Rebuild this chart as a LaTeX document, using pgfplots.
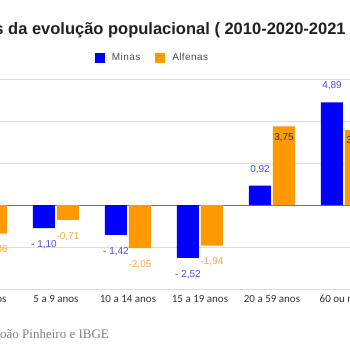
\documentclass[border=0pt]{standalone}
\usepackage{pgfplots}
\pgfplotsset{compat=1.18}
\usepackage{pgfplotstable}
\usepackage{fontspec}
\setmainfont{Liberation Sans}
\newfontfamily\tickfont{Carlito}
\newfontfamily\seriffont{Liberation Serif}
\newfontfamily\legfont[LetterSpace=4]{Liberation Sans}
\definecolor{minas}{HTML}{0000FF}
\definecolor{alfenas}{HTML}{FF9900}
\definecolor{minaslbl}{HTML}{4B4BF0}
\definecolor{alfenaslbl}{HTML}{F7A83A}
\definecolor{gridc}{HTML}{DDDDDD}

\pgfplotstableread[col sep=semicolon]{
x;y;lbl
0;-1.27;- 1,27
1;-1.10;- 1,10
2;-1.42;- 1,42
3;-2.52;- 2,52
4;0.92;0,92
5;4.89;4,89
}\minasdata

\pgfplotstableread[col sep=semicolon]{
x;y;lbl
0;-1.36;-1,36
1;-0.71;-0,71
2;-2.05;-2,05
3;-1.94;-1,94
4;3.75;{}
5;3.57;{}
}\alfenasdata

\def\myanc{south}
\begin{document}
\begin{tikzpicture}
\useasboundingbox (0,0) rectangle (350pt,350pt);
\clip (0,0) rectangle (350pt,350pt);
\begin{axis}[
  at={(-52pt,61pt)}, anchor=south west,
  scale only axis, width=432pt, height=210pt,
  xmin=-0.5, xmax=5.5, ymin=-4, ymax=6,
  ytick={-4,-2,...,6}, yticklabels={},
  xtick={0,...,5},
  xticklabels={0 a 4 anos,5 a 9 anos,10 a 14 anos,15 a 19 anos,20 a 59 anos,60 ou mais},
  xticklabel style={font=\tickfont\fontsize{11}{11}\selectfont, text=black!80, anchor=center, yshift=-10pt},
  major tick length=0pt,
  axis line style={draw=none},
  ymajorgrids, grid style={gridc, line width=0.8pt},
  extra y ticks={0}, extra y tick labels={},
  extra y tick style={grid style={black!55, line width=0.8pt}},
  ybar, bar width=22pt,
  nodes near coords, point meta=explicit symbolic,
  every node near coord/.append style={font=\fontsize{10}{10}\selectfont, inner ysep=12pt,
    /utils/exec={\ifdim\ry pt<0pt \gdef\myanc{north}\else\gdef\myanc{south}\fi},
    anchor=\myanc},
  legend image code/.code={\draw[#1,draw=none] (0pt,-5pt) rectangle (10pt,5pt);},
  legend style={at={(0.4734,1.1)}, anchor=center, draw=none, fill=none,
    legend columns=2, font=\legfont\fontsize{10}{12}\selectfont, text=black!70,
    /tikz/every odd column/.append style={column sep=5pt},
    /tikz/every even column/.append style={column sep=13pt}},
]
\addplot[fill=minas, draw=none, bar shift=-12pt,
  visualization depends on={rawy \as \ry},
  every node near coord/.append style={text=minaslbl}]
  table[x=x, y=y, meta=lbl] {\minasdata};
\addlegendentry{Minas}
\addplot[fill=alfenas, draw=none, bar shift=12pt,
  visualization depends on={rawy \as \ry},
  every node near coord/.append style={text=alfenaslbl}]
  table[x=x, y=y, meta=lbl] {\alfenasdata};
\addlegendentry{Alfenas}
\node[font=\fontsize{10}{10}\selectfont, text=black!80, xshift=12pt, yshift=-11pt] at (axis cs:4,3.75) {3,75};
\node[font=\fontsize{10}{10}\selectfont, text=black!80, xshift=12pt, yshift=-11pt] at (axis cs:5,3.57) {3,57};
\end{axis}
\node[anchor=base west, inner sep=0pt, font=\bfseries\fontsize{16.5}{16.5}\selectfont, text=black!87] at (8pt,315pt) {\llap{Taxas }da evolução populacional ( 2010-2020-2021 )};
\node[anchor=base west, inner sep=0pt, font=\seriffont\fontsize{13}{13}\selectfont, text=black!50] at (0pt,12pt) {\llap{Fonte: Fundação J}oão Pinheiro e IBGE};
\end{tikzpicture}
\end{document}
